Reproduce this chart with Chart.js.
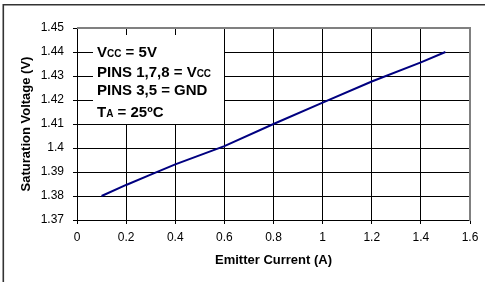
<!DOCTYPE html>
<html><head><meta charset="utf-8">
<script src="https://cdn.jsdelivr.net/npm/chart.js@4"></script>
<style>html,body{margin:0;padding:0;background:#fff}canvas{display:block}</style>
</head><body>
<canvas id="c" width="485" height="282"></canvas>
<script>
const emitterCurrent = [0.1, 0.2, 0.3, 0.4, 0.6, 0.8, 1.0, 1.2, 1.4, 1.5];
const saturationVoltage = [1.3800, 1.3846, 1.3889, 1.3932, 1.4008, 1.4100, 1.4189, 1.4277, 1.4357, 1.4400];
const xTickValues = [0, 0.2, 0.4, 0.6, 0.8, 1, 1.2, 1.4, 1.6];
const xTickLabels = ['0', '0.2', '0.4', '0.6', '0.8', '1', '1.2', '1.4', '1.6'];
const yTickValues = [1.37, 1.38, 1.39, 1.40, 1.41, 1.42, 1.43, 1.44, 1.45];
const yTickLabels = ['1.37', '1.38', '1.39', '1.4', '1.41', '1.42', '1.43', '1.44', '1.45'];
const xTitle = 'Emitter Current (A)';
const yTitle = 'Saturation Voltage (V)';
// condition notes: [text, 'b' = normal bold, 's' = subscript]
const conditionLines = [
  [['V', 'b'], ['CC', 's'], [' = 5V', 'b']],
  [['PINS 1,7,8 = V', 'b'], ['CC', 's']],
  [['PINS 3,5 = GND', 'b']],
  [['T', 'b'], ['A', 's'], [' = 25ºC', 'b']]
];

const FAMILY = '"Liberation Sans", Arial, Helvetica, sans-serif';
Chart.defaults.font.family = FAMILY;

const decor = {
  id: 'decor',
  beforeDraw(chart) {
    const ctx = chart.ctx;
    ctx.save();
    ctx.strokeStyle = '#333';
    ctx.lineWidth = 1.6;
    ctx.beginPath();
    ctx.moveTo(3.3, chart.height);
    ctx.lineTo(3.3, 4.8);
    ctx.lineTo(chart.width, 4.8);
    ctx.stroke();
    ctx.restore();
  },
  beforeDatasetsDraw(chart) {
    const {ctx, chartArea: a} = chart;
    ctx.save();
    ctx.fillStyle = '#fff';
    ctx.fillRect(a.left + 16, a.top + 7, 131, 89);
    ctx.fillStyle = '#000';
    ctx.textBaseline = 'alphabetic';
    ctx.textAlign = 'left';
    const baselines = [28.7, 49.3, 67, 88.7];
    conditionLines.forEach((segs, i) => {
      let x = a.left + 20;
      segs.forEach(([t, k]) => {
        ctx.font = (k === 's' ? 'bold 10px ' : 'bold 15px ') + FAMILY;
        ctx.fillText(t, x, a.top + baselines[i]);
        x += ctx.measureText(t).width;
      });
    });
    ctx.restore();
  },
  afterDatasetsDraw(chart) {
    const {ctx, chartArea: a} = chart;
    ctx.save();
    ctx.strokeStyle = '#808080';
    ctx.lineWidth = 2;
    ctx.beginPath();
    ctx.moveTo(a.left, a.top);
    ctx.lineTo(a.right, a.top);
    ctx.lineTo(a.right, a.bottom + 1);
    ctx.stroke();
    ctx.restore();
  }
};

new Chart(document.getElementById('c'), {
  type: 'line',
  data: {
    datasets: [{
      data: emitterCurrent.map((x, i) => ({x, y: saturationVoltage[i]})),
      borderColor: '#000080',
      borderWidth: 2,
      pointRadius: 0,
      tension: 0,
      fill: false
    }]
  },
  options: {
    responsive: false,
    animation: false,
    devicePixelRatio: 1,
    layout: {padding: {top: 28, right: 15, bottom: 0, left: 0}},
    plugins: {legend: {display: false}, tooltip: {enabled: false}},
    scales: {
      x: {
        type: 'linear',
        min: 0, max: 1.6,
        afterBuildTicks: s => { s.ticks = xTickValues.map(v => ({value: v})); },
        afterFit: s => { s.height = 62; },
        grid: {color: '#000', lineWidth: 1, tickLength: 4, drawTicks: true},
        border: {color: '#000', width: 1},
        ticks: {
          padding: 6, maxRotation: 0, autoSkip: false, color: '#000',
          font: {size: 12},
          callback: (v, i) => xTickLabels[i]
        },
        title: {display: true, text: xTitle, color: '#000', font: {size: 13, weight: 'bold'}, padding: {top: 0, bottom: 14}}
      },
      y: {
        type: 'linear',
        min: 1.37, max: 1.45,
        afterBuildTicks: s => { s.ticks = yTickValues.map(v => ({value: v})); },
        afterFit: s => { s.width = 77; },
        grid: {color: '#000', lineWidth: 1, tickLength: 4, drawTicks: true},
        border: {color: '#000', width: 1},
        ticks: {
          padding: 9, color: '#000', autoSkip: false,
          font: {size: 12},
          callback: (v, i) => yTickLabels[i]
        },
        title: {display: true, text: yTitle, color: '#000', font: {size: 13, weight: 'bold'}, padding: {top: 19, bottom: 0}}
      }
    }
  },
  plugins: [decor]
});
</script>
</body></html>
